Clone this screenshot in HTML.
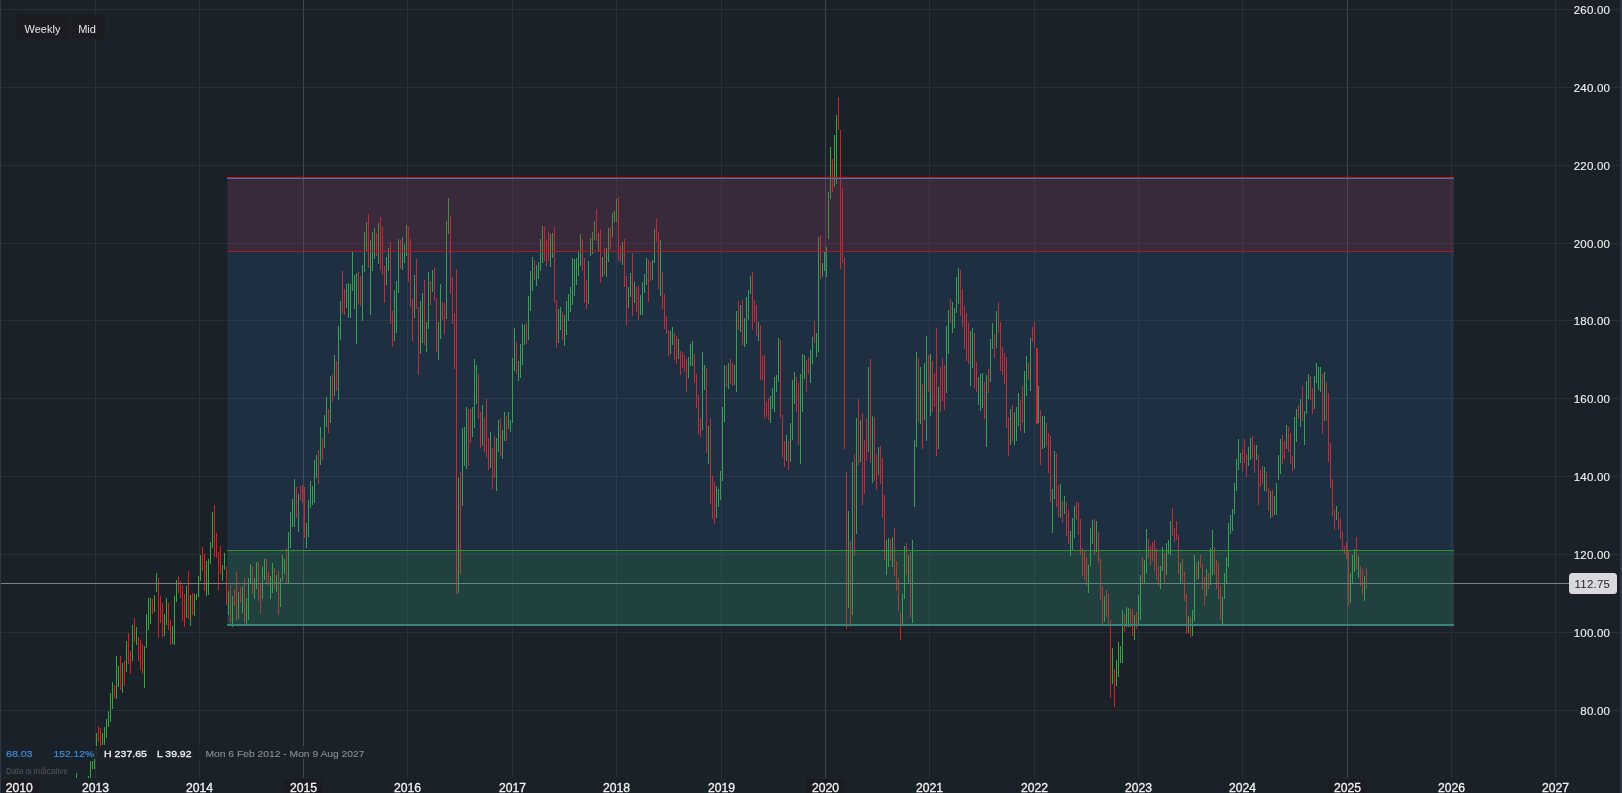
<!DOCTYPE html>
<html>
<head>
<meta charset="utf-8">
<title>Chart</title>
<style>
html,body{margin:0;padding:0;background:#1b2129;overflow:hidden;}
svg{display:block;font-family:"Liberation Sans",sans-serif;position:absolute;left:0;top:0;will-change:transform;}
.b{position:absolute;top:15px;height:24px;background:rgba(27,27,32,0.93);border-radius:2px;color:#e4e6ea;font:11px/29px "Liberation Sans",sans-serif;text-align:center;}
.g{fill:#39a63b}
.r{fill:#dd1e1e}
.gl{fill:#292e37}
.glb{fill:#444450}
.ax{font-size:11.5px;fill:#f2f2f2;stroke:#1b2129;stroke-width:3px;stroke-linejoin:round;paint-order:stroke fill;}
.tx{font-size:12px;fill:#f2f2f2;stroke:#1b2129;stroke-width:3px;stroke-linejoin:round;paint-order:stroke fill;text-anchor:middle;}
.btn{fill:#1b1c21}
.bt{font-size:11px;fill:#e4e6ea}
</style>
</head>
<body>
<svg width="1622" height="793" viewBox="0 0 1622 793" shape-rendering="crispEdges">
<defs>
<clipPath id="plotclip"><rect x="0" y="0" width="1620" height="778"/></clipPath>
</defs>
<rect x="0" y="0" width="1622" height="793" fill="#1b2129"/>
<rect x="0" y="0" width="1" height="793" fill="#2e3a4a"/>
<rect x="1620" y="0" width="2" height="793" fill="#2c3848"/>
<g id="hgrid">
<rect class="gl" x="1" y="9" width="1619" height="1"/>
<rect class="gl" x="1" y="87" width="1619" height="1"/>
<rect class="gl" x="1" y="165" width="1619" height="1"/>
<rect class="gl" x="1" y="243" width="1619" height="1"/>
<rect class="gl" x="1" y="320" width="1619" height="1"/>
<rect class="gl" x="1" y="398" width="1619" height="1"/>
<rect class="gl" x="1" y="476" width="1619" height="1"/>
<rect class="gl" x="1" y="554" width="1619" height="1"/>
<rect class="gl" x="1" y="632" width="1619" height="1"/>
<rect class="gl" x="1" y="710" width="1619" height="1"/>
</g>
<g id="vgrid">
<rect class="gl" x="95" y="0" width="1" height="778"/>
<rect class="gl" x="199" y="0" width="1" height="778"/>
<rect class="glb" x="303" y="0" width="1" height="778"/>
<rect class="gl" x="407" y="0" width="1" height="778"/>
<rect class="gl" x="512" y="0" width="1" height="778"/>
<rect class="gl" x="616" y="0" width="1" height="778"/>
<rect class="gl" x="721" y="0" width="1" height="778"/>
<rect class="glb" x="825" y="0" width="1" height="778"/>
<rect class="gl" x="929" y="0" width="1" height="778"/>
<rect class="gl" x="1034" y="0" width="1" height="778"/>
<rect class="gl" x="1138" y="0" width="1" height="778"/>
<rect class="gl" x="1242" y="0" width="1" height="778"/>
<rect class="glb" x="1347" y="0" width="1" height="778"/>
<rect class="gl" x="1451" y="0" width="1" height="778"/>
<rect class="gl" x="1555" y="0" width="1" height="778"/>
</g>

<g id="bars" clip-path="url(#plotclip)">
<rect class="g" x="76" y="773" width="1" height="6"/>
<rect class="g" x="88" y="776" width="1" height="3"/>
<rect class="g" x="90" y="761" width="1" height="18"/>
<rect class="g" x="92" y="761" width="1" height="8"/>
<rect class="g" x="94" y="751" width="1" height="18"/>
<rect class="g" x="96" y="733" width="1" height="23"/>
<rect class="r" x="98" y="726" width="1" height="16"/>
<rect class="r" x="100" y="728" width="1" height="21"/>
<rect class="g" x="102" y="733" width="1" height="12"/>
<rect class="g" x="104" y="727" width="1" height="18"/>
<rect class="g" x="106" y="719" width="1" height="19"/>
<rect class="g" x="108" y="711" width="1" height="16"/>
<rect class="g" x="110" y="693" width="1" height="29"/>
<rect class="g" x="112" y="682" width="1" height="27"/>
<rect class="r" x="114" y="685" width="1" height="13"/>
<rect class="g" x="116" y="656" width="1" height="43"/>
<rect class="g" x="118" y="666" width="1" height="21"/>
<rect class="r" x="120" y="656" width="1" height="34"/>
<rect class="g" x="122" y="663" width="1" height="30"/>
<rect class="r" x="124" y="661" width="1" height="25"/>
<rect class="g" x="126" y="641" width="1" height="31"/>
<rect class="r" x="128" y="633" width="1" height="31"/>
<rect class="r" x="130" y="651" width="1" height="23"/>
<rect class="g" x="132" y="625" width="1" height="36"/>
<rect class="r" x="134" y="618" width="1" height="24"/>
<rect class="g" x="136" y="627" width="1" height="18"/>
<rect class="r" x="138" y="637" width="1" height="24"/>
<rect class="r" x="140" y="640" width="1" height="30"/>
<rect class="r" x="142" y="644" width="1" height="30"/>
<rect class="g" x="144" y="646" width="1" height="42"/>
<rect class="g" x="146" y="614" width="1" height="34"/>
<rect class="g" x="148" y="598" width="1" height="32"/>
<rect class="g" x="150" y="598" width="1" height="26"/>
<rect class="r" x="152" y="599" width="1" height="15"/>
<rect class="g" x="154" y="595" width="1" height="17"/>
<rect class="g" x="156" y="573" width="1" height="19"/>
<rect class="r" x="158" y="578" width="1" height="60"/>
<rect class="r" x="160" y="596" width="1" height="27"/>
<rect class="r" x="162" y="603" width="1" height="34"/>
<rect class="g" x="164" y="614" width="1" height="22"/>
<rect class="g" x="166" y="598" width="1" height="27"/>
<rect class="r" x="168" y="603" width="1" height="27"/>
<rect class="r" x="170" y="620" width="1" height="25"/>
<rect class="g" x="172" y="626" width="1" height="18"/>
<rect class="g" x="174" y="596" width="1" height="49"/>
<rect class="g" x="176" y="580" width="1" height="22"/>
<rect class="r" x="178" y="576" width="1" height="17"/>
<rect class="r" x="180" y="581" width="1" height="17"/>
<rect class="r" x="182" y="585" width="1" height="36"/>
<rect class="r" x="184" y="594" width="1" height="33"/>
<rect class="g" x="186" y="586" width="1" height="32"/>
<rect class="r" x="188" y="571" width="1" height="48"/>
<rect class="g" x="190" y="595" width="1" height="31"/>
<rect class="r" x="192" y="593" width="1" height="22"/>
<rect class="g" x="194" y="594" width="1" height="22"/>
<rect class="g" x="196" y="594" width="1" height="6"/>
<rect class="g" x="198" y="576" width="1" height="21"/>
<rect class="g" x="200" y="555" width="1" height="26"/>
<rect class="r" x="202" y="547" width="1" height="24"/>
<rect class="r" x="204" y="554" width="1" height="37"/>
<rect class="g" x="206" y="561" width="1" height="35"/>
<rect class="g" x="208" y="559" width="1" height="36"/>
<rect class="g" x="210" y="542" width="1" height="22"/>
<rect class="g" x="212" y="512" width="1" height="36"/>
<rect class="r" x="214" y="505" width="1" height="52"/>
<rect class="r" x="216" y="533" width="1" height="25"/>
<rect class="r" x="218" y="552" width="1" height="38"/>
<rect class="r" x="220" y="546" width="1" height="28"/>
<rect class="g" x="222" y="565" width="1" height="16"/>
<rect class="g" x="224" y="553" width="1" height="17"/>
<rect class="r" x="226" y="566" width="1" height="39"/>
<rect class="g" x="228" y="591" width="1" height="24"/>
<rect class="r" x="230" y="585" width="1" height="38"/>
<rect class="g" x="232" y="596" width="1" height="31"/>
<rect class="r" x="234" y="590" width="1" height="16"/>
<rect class="r" x="236" y="572" width="1" height="49"/>
<rect class="g" x="238" y="592" width="1" height="27"/>
<rect class="r" x="240" y="587" width="1" height="16"/>
<rect class="g" x="242" y="586" width="1" height="27"/>
<rect class="r" x="244" y="578" width="1" height="45"/>
<rect class="g" x="246" y="598" width="1" height="27"/>
<rect class="g" x="248" y="578" width="1" height="42"/>
<rect class="g" x="250" y="564" width="1" height="20"/>
<rect class="r" x="252" y="566" width="1" height="28"/>
<rect class="g" x="254" y="578" width="1" height="21"/>
<rect class="g" x="256" y="562" width="1" height="27"/>
<rect class="r" x="258" y="562" width="1" height="39"/>
<rect class="r" x="260" y="583" width="1" height="30"/>
<rect class="g" x="262" y="567" width="1" height="32"/>
<rect class="g" x="264" y="559" width="1" height="21"/>
<rect class="r" x="266" y="558" width="1" height="25"/>
<rect class="r" x="268" y="572" width="1" height="13"/>
<rect class="g" x="270" y="576" width="1" height="23"/>
<rect class="g" x="272" y="563" width="1" height="30"/>
<rect class="r" x="274" y="568" width="1" height="21"/>
<rect class="g" x="276" y="575" width="1" height="17"/>
<rect class="r" x="278" y="571" width="1" height="44"/>
<rect class="g" x="280" y="578" width="1" height="29"/>
<rect class="g" x="282" y="555" width="1" height="26"/>
<rect class="g" x="284" y="559" width="1" height="15"/>
<rect class="r" x="286" y="548" width="1" height="35"/>
<rect class="g" x="288" y="532" width="1" height="51"/>
<rect class="g" x="290" y="512" width="1" height="36"/>
<rect class="g" x="292" y="499" width="1" height="28"/>
<rect class="g" x="294" y="479" width="1" height="48"/>
<rect class="r" x="296" y="487" width="1" height="31"/>
<rect class="g" x="298" y="494" width="1" height="38"/>
<rect class="r" x="300" y="486" width="1" height="14"/>
<rect class="r" x="302" y="485" width="1" height="18"/>
<rect class="r" x="304" y="487" width="1" height="51"/>
<rect class="g" x="306" y="523" width="1" height="25"/>
<rect class="g" x="308" y="500" width="1" height="37"/>
<rect class="g" x="310" y="481" width="1" height="27"/>
<rect class="g" x="312" y="486" width="1" height="19"/>
<rect class="g" x="314" y="460" width="1" height="43"/>
<rect class="g" x="316" y="455" width="1" height="23"/>
<rect class="r" x="318" y="450" width="1" height="34"/>
<rect class="g" x="320" y="427" width="1" height="38"/>
<rect class="r" x="322" y="438" width="1" height="22"/>
<rect class="g" x="324" y="415" width="1" height="33"/>
<rect class="g" x="326" y="397" width="1" height="30"/>
<rect class="r" x="328" y="409" width="1" height="24"/>
<rect class="g" x="330" y="376" width="1" height="47"/>
<rect class="r" x="332" y="374" width="1" height="28"/>
<rect class="g" x="334" y="355" width="1" height="41"/>
<rect class="r" x="336" y="361" width="1" height="30"/>
<rect class="g" x="338" y="326" width="1" height="74"/>
<rect class="g" x="340" y="301" width="1" height="39"/>
<rect class="r" x="342" y="271" width="1" height="43"/>
<rect class="r" x="344" y="289" width="1" height="26"/>
<rect class="g" x="346" y="284" width="1" height="24"/>
<rect class="g" x="348" y="283" width="1" height="35"/>
<rect class="g" x="350" y="284" width="1" height="34"/>
<rect class="g" x="352" y="252" width="1" height="39"/>
<rect class="g" x="354" y="275" width="1" height="34"/>
<rect class="g" x="356" y="273" width="1" height="71"/>
<rect class="r" x="358" y="272" width="1" height="32"/>
<rect class="r" x="360" y="276" width="1" height="30"/>
<rect class="g" x="362" y="265" width="1" height="56"/>
<rect class="g" x="364" y="232" width="1" height="40"/>
<rect class="g" x="366" y="222" width="1" height="30"/>
<rect class="r" x="368" y="214" width="1" height="54"/>
<rect class="g" x="370" y="240" width="1" height="75"/>
<rect class="g" x="372" y="232" width="1" height="39"/>
<rect class="g" x="374" y="228" width="1" height="31"/>
<rect class="r" x="376" y="233" width="1" height="23"/>
<rect class="g" x="378" y="223" width="1" height="41"/>
<rect class="r" x="380" y="217" width="1" height="53"/>
<rect class="r" x="382" y="227" width="1" height="48"/>
<rect class="r" x="384" y="266" width="1" height="37"/>
<rect class="g" x="386" y="257" width="1" height="28"/>
<rect class="g" x="388" y="248" width="1" height="23"/>
<rect class="r" x="390" y="242" width="1" height="82"/>
<rect class="r" x="392" y="311" width="1" height="36"/>
<rect class="g" x="394" y="290" width="1" height="51"/>
<rect class="g" x="396" y="281" width="1" height="52"/>
<rect class="g" x="398" y="239" width="1" height="54"/>
<rect class="r" x="400" y="240" width="1" height="29"/>
<rect class="g" x="402" y="237" width="1" height="33"/>
<rect class="g" x="404" y="244" width="1" height="19"/>
<rect class="g" x="406" y="225" width="1" height="31"/>
<rect class="r" x="408" y="227" width="1" height="55"/>
<rect class="r" x="410" y="239" width="1" height="68"/>
<rect class="r" x="412" y="299" width="1" height="42"/>
<rect class="g" x="414" y="275" width="1" height="43"/>
<rect class="r" x="416" y="259" width="1" height="50"/>
<rect class="r" x="418" y="307" width="1" height="68"/>
<rect class="g" x="420" y="301" width="1" height="53"/>
<rect class="g" x="422" y="293" width="1" height="50"/>
<rect class="r" x="424" y="280" width="1" height="65"/>
<rect class="g" x="426" y="322" width="1" height="30"/>
<rect class="g" x="428" y="272" width="1" height="57"/>
<rect class="r" x="430" y="281" width="1" height="24"/>
<rect class="g" x="432" y="270" width="1" height="22"/>
<rect class="r" x="434" y="267" width="1" height="34"/>
<rect class="r" x="436" y="298" width="1" height="54"/>
<rect class="g" x="438" y="322" width="1" height="38"/>
<rect class="g" x="440" y="284" width="1" height="55"/>
<rect class="r" x="442" y="302" width="1" height="18"/>
<rect class="r" x="444" y="303" width="1" height="31"/>
<rect class="g" x="446" y="221" width="1" height="98"/>
<rect class="g" x="448" y="198" width="1" height="36"/>
<rect class="r" x="450" y="216" width="1" height="78"/>
<rect class="r" x="452" y="277" width="1" height="47"/>
<rect class="r" x="454" y="313" width="1" height="56"/>
<rect class="r" x="456" y="269" width="1" height="325"/>
<rect class="g" x="458" y="478" width="1" height="115"/>
<rect class="r" x="460" y="472" width="1" height="102"/>
<rect class="g" x="462" y="428" width="1" height="78"/>
<rect class="g" x="464" y="427" width="1" height="39"/>
<rect class="g" x="466" y="407" width="1" height="62"/>
<rect class="r" x="468" y="409" width="1" height="57"/>
<rect class="r" x="470" y="409" width="1" height="34"/>
<rect class="g" x="472" y="407" width="1" height="30"/>
<rect class="g" x="474" y="359" width="1" height="69"/>
<rect class="g" x="476" y="365" width="1" height="39"/>
<rect class="r" x="478" y="374" width="1" height="45"/>
<rect class="r" x="480" y="412" width="1" height="36"/>
<rect class="g" x="482" y="405" width="1" height="41"/>
<rect class="r" x="484" y="418" width="1" height="34"/>
<rect class="r" x="486" y="399" width="1" height="59"/>
<rect class="r" x="488" y="438" width="1" height="32"/>
<rect class="g" x="490" y="432" width="1" height="36"/>
<rect class="r" x="492" y="448" width="1" height="41"/>
<rect class="r" x="494" y="436" width="1" height="42"/>
<rect class="g" x="496" y="438" width="1" height="53"/>
<rect class="g" x="498" y="420" width="1" height="32"/>
<rect class="r" x="500" y="419" width="1" height="37"/>
<rect class="g" x="502" y="430" width="1" height="29"/>
<rect class="g" x="504" y="412" width="1" height="29"/>
<rect class="r" x="506" y="416" width="1" height="25"/>
<rect class="g" x="508" y="412" width="1" height="17"/>
<rect class="g" x="510" y="420" width="1" height="12"/>
<rect class="g" x="512" y="358" width="1" height="65"/>
<rect class="g" x="514" y="328" width="1" height="43"/>
<rect class="r" x="516" y="342" width="1" height="32"/>
<rect class="g" x="518" y="361" width="1" height="20"/>
<rect class="g" x="520" y="344" width="1" height="34"/>
<rect class="g" x="522" y="324" width="1" height="41"/>
<rect class="g" x="524" y="325" width="1" height="20"/>
<rect class="r" x="526" y="323" width="1" height="21"/>
<rect class="g" x="528" y="296" width="1" height="44"/>
<rect class="g" x="530" y="271" width="1" height="40"/>
<rect class="g" x="532" y="257" width="1" height="34"/>
<rect class="r" x="534" y="260" width="1" height="20"/>
<rect class="g" x="536" y="265" width="1" height="21"/>
<rect class="g" x="538" y="262" width="1" height="17"/>
<rect class="g" x="540" y="239" width="1" height="32"/>
<rect class="g" x="542" y="226" width="1" height="37"/>
<rect class="r" x="544" y="227" width="1" height="34"/>
<rect class="r" x="546" y="240" width="1" height="26"/>
<rect class="r" x="548" y="232" width="1" height="29"/>
<rect class="g" x="550" y="234" width="1" height="33"/>
<rect class="g" x="552" y="233" width="1" height="25"/>
<rect class="r" x="554" y="227" width="1" height="76"/>
<rect class="r" x="556" y="300" width="1" height="48"/>
<rect class="g" x="558" y="309" width="1" height="34"/>
<rect class="g" x="560" y="307" width="1" height="23"/>
<rect class="r" x="562" y="312" width="1" height="28"/>
<rect class="g" x="564" y="315" width="1" height="31"/>
<rect class="g" x="566" y="301" width="1" height="34"/>
<rect class="g" x="568" y="294" width="1" height="27"/>
<rect class="g" x="570" y="287" width="1" height="25"/>
<rect class="g" x="572" y="258" width="1" height="47"/>
<rect class="g" x="574" y="259" width="1" height="37"/>
<rect class="g" x="576" y="258" width="1" height="27"/>
<rect class="g" x="578" y="250" width="1" height="26"/>
<rect class="g" x="580" y="234" width="1" height="32"/>
<rect class="r" x="582" y="239" width="1" height="32"/>
<rect class="r" x="584" y="258" width="1" height="45"/>
<rect class="r" x="586" y="280" width="1" height="29"/>
<rect class="g" x="588" y="261" width="1" height="43"/>
<rect class="g" x="590" y="238" width="1" height="18"/>
<rect class="g" x="592" y="232" width="1" height="22"/>
<rect class="g" x="594" y="221" width="1" height="19"/>
<rect class="r" x="596" y="209" width="1" height="32"/>
<rect class="g" x="598" y="233" width="1" height="19"/>
<rect class="r" x="600" y="229" width="1" height="54"/>
<rect class="g" x="602" y="257" width="1" height="20"/>
<rect class="r" x="604" y="248" width="1" height="27"/>
<rect class="g" x="606" y="248" width="1" height="29"/>
<rect class="g" x="608" y="228" width="1" height="34"/>
<rect class="r" x="610" y="227" width="1" height="22"/>
<rect class="g" x="612" y="213" width="1" height="24"/>
<rect class="g" x="614" y="211" width="1" height="11"/>
<rect class="g" x="616" y="199" width="1" height="23"/>
<rect class="r" x="618" y="197" width="1" height="64"/>
<rect class="r" x="620" y="246" width="1" height="16"/>
<rect class="g" x="622" y="242" width="1" height="23"/>
<rect class="r" x="624" y="239" width="1" height="48"/>
<rect class="r" x="626" y="276" width="1" height="49"/>
<rect class="g" x="628" y="287" width="1" height="21"/>
<rect class="g" x="630" y="273" width="1" height="24"/>
<rect class="r" x="632" y="253" width="1" height="63"/>
<rect class="g" x="634" y="282" width="1" height="21"/>
<rect class="r" x="636" y="287" width="1" height="25"/>
<rect class="r" x="638" y="286" width="1" height="34"/>
<rect class="g" x="640" y="295" width="1" height="20"/>
<rect class="g" x="642" y="282" width="1" height="33"/>
<rect class="g" x="644" y="274" width="1" height="19"/>
<rect class="g" x="646" y="258" width="1" height="27"/>
<rect class="r" x="648" y="260" width="1" height="42"/>
<rect class="r" x="650" y="262" width="1" height="19"/>
<rect class="g" x="652" y="260" width="1" height="20"/>
<rect class="g" x="654" y="229" width="1" height="34"/>
<rect class="r" x="656" y="219" width="1" height="23"/>
<rect class="r" x="658" y="232" width="1" height="57"/>
<rect class="g" x="660" y="240" width="1" height="56"/>
<rect class="r" x="662" y="272" width="1" height="37"/>
<rect class="r" x="664" y="294" width="1" height="35"/>
<rect class="r" x="666" y="316" width="1" height="18"/>
<rect class="r" x="668" y="330" width="1" height="26"/>
<rect class="g" x="670" y="331" width="1" height="23"/>
<rect class="g" x="672" y="327" width="1" height="18"/>
<rect class="r" x="674" y="333" width="1" height="27"/>
<rect class="r" x="676" y="336" width="1" height="28"/>
<rect class="g" x="678" y="339" width="1" height="20"/>
<rect class="r" x="680" y="351" width="1" height="24"/>
<rect class="r" x="682" y="352" width="1" height="16"/>
<rect class="r" x="684" y="355" width="1" height="17"/>
<rect class="r" x="686" y="359" width="1" height="33"/>
<rect class="g" x="688" y="357" width="1" height="21"/>
<rect class="g" x="690" y="344" width="1" height="22"/>
<rect class="g" x="692" y="341" width="1" height="25"/>
<rect class="r" x="694" y="354" width="1" height="29"/>
<rect class="r" x="696" y="374" width="1" height="34"/>
<rect class="r" x="698" y="395" width="1" height="39"/>
<rect class="r" x="700" y="418" width="1" height="19"/>
<rect class="g" x="702" y="352" width="1" height="78"/>
<rect class="g" x="704" y="365" width="1" height="25"/>
<rect class="r" x="706" y="368" width="1" height="85"/>
<rect class="g" x="708" y="426" width="1" height="38"/>
<rect class="r" x="710" y="418" width="1" height="86"/>
<rect class="r" x="712" y="476" width="1" height="43"/>
<rect class="r" x="714" y="482" width="1" height="42"/>
<rect class="g" x="716" y="486" width="1" height="32"/>
<rect class="g" x="718" y="489" width="1" height="18"/>
<rect class="g" x="720" y="471" width="1" height="29"/>
<rect class="g" x="722" y="407" width="1" height="74"/>
<rect class="g" x="724" y="365" width="1" height="57"/>
<rect class="r" x="726" y="366" width="1" height="21"/>
<rect class="g" x="728" y="363" width="1" height="26"/>
<rect class="r" x="730" y="359" width="1" height="25"/>
<rect class="r" x="732" y="363" width="1" height="23"/>
<rect class="g" x="734" y="365" width="1" height="20"/>
<rect class="g" x="736" y="311" width="1" height="81"/>
<rect class="r" x="738" y="301" width="1" height="29"/>
<rect class="g" x="740" y="305" width="1" height="27"/>
<rect class="r" x="742" y="300" width="1" height="45"/>
<rect class="g" x="744" y="318" width="1" height="29"/>
<rect class="g" x="746" y="297" width="1" height="47"/>
<rect class="g" x="748" y="290" width="1" height="30"/>
<rect class="g" x="750" y="276" width="1" height="18"/>
<rect class="r" x="752" y="272" width="1" height="58"/>
<rect class="r" x="754" y="300" width="1" height="22"/>
<rect class="r" x="756" y="305" width="1" height="31"/>
<rect class="g" x="758" y="322" width="1" height="19"/>
<rect class="r" x="760" y="325" width="1" height="55"/>
<rect class="r" x="762" y="356" width="1" height="24"/>
<rect class="r" x="764" y="355" width="1" height="64"/>
<rect class="r" x="766" y="402" width="1" height="15"/>
<rect class="r" x="768" y="398" width="1" height="22"/>
<rect class="g" x="770" y="396" width="1" height="27"/>
<rect class="g" x="772" y="388" width="1" height="21"/>
<rect class="g" x="774" y="377" width="1" height="35"/>
<rect class="g" x="776" y="375" width="1" height="17"/>
<rect class="g" x="778" y="338" width="1" height="44"/>
<rect class="r" x="780" y="340" width="1" height="78"/>
<rect class="r" x="782" y="415" width="1" height="43"/>
<rect class="r" x="784" y="441" width="1" height="26"/>
<rect class="g" x="786" y="435" width="1" height="26"/>
<rect class="r" x="788" y="441" width="1" height="29"/>
<rect class="g" x="790" y="423" width="1" height="39"/>
<rect class="g" x="792" y="380" width="1" height="60"/>
<rect class="g" x="794" y="372" width="1" height="32"/>
<rect class="r" x="796" y="377" width="1" height="35"/>
<rect class="r" x="798" y="383" width="1" height="62"/>
<rect class="g" x="800" y="374" width="1" height="90"/>
<rect class="g" x="802" y="354" width="1" height="58"/>
<rect class="g" x="804" y="355" width="1" height="24"/>
<rect class="r" x="806" y="360" width="1" height="32"/>
<rect class="r" x="808" y="357" width="1" height="17"/>
<rect class="g" x="810" y="350" width="1" height="33"/>
<rect class="g" x="812" y="337" width="1" height="27"/>
<rect class="r" x="814" y="321" width="1" height="22"/>
<rect class="g" x="816" y="333" width="1" height="24"/>
<rect class="g" x="818" y="237" width="1" height="115"/>
<rect class="r" x="820" y="235" width="1" height="44"/>
<rect class="g" x="822" y="263" width="1" height="14"/>
<rect class="g" x="824" y="252" width="1" height="19"/>
<rect class="g" x="826" y="247" width="1" height="30"/>
<rect class="g" x="828" y="192" width="1" height="47"/>
<rect class="g" x="830" y="147" width="1" height="52"/>
<rect class="r" x="832" y="159" width="1" height="33"/>
<rect class="g" x="834" y="135" width="1" height="52"/>
<rect class="g" x="836" y="115" width="1" height="69"/>
<rect class="r" x="838" y="97" width="1" height="33"/>
<rect class="r" x="840" y="130" width="1" height="139"/>
<rect class="r" x="842" y="188" width="1" height="75"/>
<rect class="r" x="844" y="258" width="1" height="191"/>
<rect class="r" x="846" y="472" width="1" height="157"/>
<rect class="g" x="848" y="511" width="1" height="97"/>
<rect class="r" x="850" y="541" width="1" height="86"/>
<rect class="g" x="852" y="462" width="1" height="153"/>
<rect class="r" x="854" y="454" width="1" height="102"/>
<rect class="g" x="856" y="418" width="1" height="116"/>
<rect class="r" x="858" y="399" width="1" height="66"/>
<rect class="g" x="860" y="420" width="1" height="42"/>
<rect class="r" x="862" y="413" width="1" height="92"/>
<rect class="r" x="864" y="440" width="1" height="54"/>
<rect class="r" x="866" y="418" width="1" height="43"/>
<rect class="g" x="868" y="367" width="1" height="85"/>
<rect class="r" x="870" y="359" width="1" height="104"/>
<rect class="g" x="872" y="416" width="1" height="67"/>
<rect class="r" x="874" y="417" width="1" height="64"/>
<rect class="r" x="876" y="454" width="1" height="36"/>
<rect class="g" x="878" y="447" width="1" height="28"/>
<rect class="r" x="880" y="446" width="1" height="38"/>
<rect class="r" x="882" y="458" width="1" height="60"/>
<rect class="r" x="884" y="495" width="1" height="65"/>
<rect class="g" x="886" y="540" width="1" height="35"/>
<rect class="g" x="888" y="538" width="1" height="29"/>
<rect class="r" x="890" y="539" width="1" height="22"/>
<rect class="g" x="892" y="537" width="1" height="30"/>
<rect class="r" x="894" y="528" width="1" height="48"/>
<rect class="r" x="896" y="561" width="1" height="30"/>
<rect class="r" x="898" y="578" width="1" height="33"/>
<rect class="r" x="900" y="612" width="1" height="28"/>
<rect class="g" x="902" y="594" width="1" height="30"/>
<rect class="g" x="904" y="546" width="1" height="53"/>
<rect class="r" x="906" y="543" width="1" height="32"/>
<rect class="g" x="908" y="555" width="1" height="28"/>
<rect class="r" x="910" y="552" width="1" height="65"/>
<rect class="g" x="912" y="540" width="1" height="83"/>
<rect class="g" x="914" y="440" width="1" height="67"/>
<rect class="g" x="916" y="352" width="1" height="95"/>
<rect class="r" x="918" y="358" width="1" height="64"/>
<rect class="g" x="920" y="367" width="1" height="57"/>
<rect class="r" x="922" y="384" width="1" height="65"/>
<rect class="g" x="924" y="363" width="1" height="57"/>
<rect class="g" x="926" y="336" width="1" height="105"/>
<rect class="r" x="928" y="355" width="1" height="37"/>
<rect class="g" x="930" y="354" width="1" height="62"/>
<rect class="r" x="932" y="361" width="1" height="51"/>
<rect class="r" x="934" y="373" width="1" height="34"/>
<rect class="r" x="936" y="328" width="1" height="128"/>
<rect class="g" x="938" y="387" width="1" height="62"/>
<rect class="r" x="940" y="367" width="1" height="45"/>
<rect class="r" x="942" y="358" width="1" height="43"/>
<rect class="r" x="944" y="365" width="1" height="45"/>
<rect class="g" x="946" y="326" width="1" height="67"/>
<rect class="g" x="948" y="310" width="1" height="44"/>
<rect class="r" x="950" y="299" width="1" height="24"/>
<rect class="g" x="952" y="302" width="1" height="31"/>
<rect class="g" x="954" y="308" width="1" height="20"/>
<rect class="g" x="956" y="277" width="1" height="36"/>
<rect class="g" x="958" y="268" width="1" height="36"/>
<rect class="r" x="960" y="270" width="1" height="46"/>
<rect class="r" x="962" y="289" width="1" height="38"/>
<rect class="r" x="964" y="306" width="1" height="43"/>
<rect class="r" x="966" y="313" width="1" height="48"/>
<rect class="r" x="968" y="323" width="1" height="41"/>
<rect class="g" x="970" y="331" width="1" height="55"/>
<rect class="g" x="972" y="328" width="1" height="40"/>
<rect class="r" x="974" y="333" width="1" height="55"/>
<rect class="r" x="976" y="362" width="1" height="30"/>
<rect class="g" x="978" y="377" width="1" height="28"/>
<rect class="g" x="980" y="374" width="1" height="37"/>
<rect class="g" x="982" y="373" width="1" height="35"/>
<rect class="r" x="984" y="382" width="1" height="37"/>
<rect class="g" x="986" y="375" width="1" height="72"/>
<rect class="r" x="988" y="369" width="1" height="24"/>
<rect class="g" x="990" y="339" width="1" height="43"/>
<rect class="g" x="992" y="323" width="1" height="26"/>
<rect class="r" x="994" y="334" width="1" height="24"/>
<rect class="g" x="996" y="311" width="1" height="37"/>
<rect class="r" x="998" y="302" width="1" height="31"/>
<rect class="r" x="1000" y="322" width="1" height="49"/>
<rect class="r" x="1002" y="347" width="1" height="28"/>
<rect class="r" x="1004" y="353" width="1" height="31"/>
<rect class="r" x="1006" y="357" width="1" height="71"/>
<rect class="r" x="1008" y="417" width="1" height="39"/>
<rect class="g" x="1010" y="409" width="1" height="36"/>
<rect class="r" x="1012" y="405" width="1" height="36"/>
<rect class="g" x="1014" y="412" width="1" height="33"/>
<rect class="g" x="1016" y="407" width="1" height="34"/>
<rect class="g" x="1018" y="393" width="1" height="33"/>
<rect class="r" x="1020" y="400" width="1" height="31"/>
<rect class="r" x="1022" y="386" width="1" height="37"/>
<rect class="g" x="1024" y="371" width="1" height="62"/>
<rect class="g" x="1026" y="356" width="1" height="40"/>
<rect class="r" x="1028" y="363" width="1" height="17"/>
<rect class="g" x="1030" y="338" width="1" height="53"/>
<rect class="r" x="1032" y="327" width="1" height="15"/>
<rect class="r" x="1034" y="322" width="1" height="25"/>
<rect class="r" x="1036" y="348" width="2" height="76"/>
<rect class="g" x="1038" y="386" width="1" height="37"/>
<rect class="r" x="1040" y="410" width="1" height="55"/>
<rect class="g" x="1042" y="416" width="1" height="33"/>
<rect class="g" x="1044" y="416" width="1" height="32"/>
<rect class="r" x="1046" y="423" width="1" height="23"/>
<rect class="r" x="1048" y="433" width="1" height="40"/>
<rect class="r" x="1050" y="436" width="1" height="66"/>
<rect class="g" x="1052" y="489" width="1" height="44"/>
<rect class="g" x="1054" y="451" width="1" height="48"/>
<rect class="r" x="1056" y="453" width="1" height="54"/>
<rect class="r" x="1058" y="485" width="1" height="32"/>
<rect class="g" x="1060" y="484" width="1" height="34"/>
<rect class="r" x="1062" y="501" width="1" height="22"/>
<rect class="g" x="1064" y="496" width="1" height="18"/>
<rect class="r" x="1066" y="502" width="1" height="34"/>
<rect class="r" x="1068" y="510" width="1" height="34"/>
<rect class="g" x="1070" y="531" width="1" height="25"/>
<rect class="g" x="1072" y="518" width="1" height="32"/>
<rect class="g" x="1074" y="506" width="1" height="32"/>
<rect class="r" x="1076" y="502" width="1" height="18"/>
<rect class="r" x="1078" y="502" width="1" height="33"/>
<rect class="r" x="1080" y="519" width="1" height="36"/>
<rect class="r" x="1082" y="548" width="1" height="28"/>
<rect class="r" x="1084" y="551" width="1" height="29"/>
<rect class="r" x="1086" y="557" width="1" height="29"/>
<rect class="g" x="1088" y="565" width="1" height="28"/>
<rect class="g" x="1090" y="528" width="1" height="38"/>
<rect class="g" x="1092" y="520" width="1" height="24"/>
<rect class="r" x="1094" y="519" width="1" height="36"/>
<rect class="g" x="1096" y="521" width="1" height="31"/>
<rect class="r" x="1098" y="532" width="1" height="31"/>
<rect class="r" x="1100" y="558" width="1" height="42"/>
<rect class="r" x="1102" y="586" width="1" height="40"/>
<rect class="g" x="1104" y="596" width="1" height="26"/>
<rect class="r" x="1106" y="590" width="1" height="27"/>
<rect class="r" x="1108" y="594" width="1" height="30"/>
<rect class="r" x="1110" y="620" width="1" height="78"/>
<rect class="g" x="1112" y="648" width="1" height="36"/>
<rect class="r" x="1114" y="669" width="1" height="38"/>
<rect class="g" x="1116" y="660" width="1" height="26"/>
<rect class="g" x="1118" y="642" width="1" height="35"/>
<rect class="g" x="1120" y="646" width="1" height="17"/>
<rect class="g" x="1122" y="610" width="1" height="53"/>
<rect class="r" x="1124" y="614" width="1" height="18"/>
<rect class="g" x="1126" y="607" width="1" height="20"/>
<rect class="g" x="1128" y="608" width="1" height="19"/>
<rect class="r" x="1130" y="609" width="1" height="18"/>
<rect class="r" x="1132" y="609" width="1" height="27"/>
<rect class="g" x="1134" y="615" width="1" height="25"/>
<rect class="r" x="1136" y="612" width="1" height="17"/>
<rect class="g" x="1138" y="595" width="1" height="29"/>
<rect class="g" x="1140" y="575" width="1" height="45"/>
<rect class="r" x="1142" y="557" width="1" height="26"/>
<rect class="g" x="1144" y="560" width="1" height="23"/>
<rect class="g" x="1146" y="529" width="1" height="44"/>
<rect class="r" x="1148" y="539" width="1" height="19"/>
<rect class="r" x="1150" y="546" width="1" height="19"/>
<rect class="r" x="1152" y="542" width="1" height="19"/>
<rect class="r" x="1154" y="540" width="1" height="31"/>
<rect class="r" x="1156" y="548" width="1" height="32"/>
<rect class="r" x="1158" y="566" width="1" height="20"/>
<rect class="g" x="1160" y="566" width="1" height="23"/>
<rect class="g" x="1162" y="547" width="1" height="24"/>
<rect class="r" x="1164" y="553" width="1" height="30"/>
<rect class="g" x="1166" y="543" width="1" height="32"/>
<rect class="g" x="1168" y="540" width="1" height="14"/>
<rect class="g" x="1170" y="521" width="1" height="34"/>
<rect class="r" x="1172" y="508" width="1" height="28"/>
<rect class="r" x="1174" y="528" width="1" height="14"/>
<rect class="r" x="1176" y="521" width="1" height="19"/>
<rect class="r" x="1178" y="535" width="1" height="39"/>
<rect class="g" x="1180" y="563" width="1" height="20"/>
<rect class="r" x="1182" y="559" width="1" height="23"/>
<rect class="r" x="1184" y="572" width="1" height="29"/>
<rect class="r" x="1186" y="594" width="1" height="40"/>
<rect class="g" x="1188" y="616" width="1" height="17"/>
<rect class="r" x="1190" y="617" width="1" height="20"/>
<rect class="g" x="1192" y="610" width="1" height="26"/>
<rect class="g" x="1194" y="555" width="1" height="66"/>
<rect class="r" x="1196" y="563" width="1" height="17"/>
<rect class="g" x="1198" y="561" width="1" height="18"/>
<rect class="r" x="1200" y="555" width="1" height="13"/>
<rect class="r" x="1202" y="564" width="1" height="26"/>
<rect class="r" x="1204" y="577" width="1" height="28"/>
<rect class="g" x="1206" y="569" width="1" height="27"/>
<rect class="r" x="1208" y="573" width="1" height="16"/>
<rect class="g" x="1210" y="548" width="1" height="37"/>
<rect class="g" x="1212" y="530" width="1" height="45"/>
<rect class="r" x="1214" y="547" width="1" height="28"/>
<rect class="r" x="1216" y="560" width="1" height="29"/>
<rect class="r" x="1218" y="563" width="1" height="36"/>
<rect class="r" x="1220" y="586" width="1" height="34"/>
<rect class="g" x="1222" y="597" width="1" height="27"/>
<rect class="g" x="1224" y="573" width="1" height="26"/>
<rect class="g" x="1226" y="557" width="1" height="26"/>
<rect class="g" x="1228" y="523" width="1" height="44"/>
<rect class="g" x="1230" y="515" width="1" height="19"/>
<rect class="g" x="1232" y="509" width="1" height="22"/>
<rect class="g" x="1234" y="483" width="1" height="31"/>
<rect class="g" x="1236" y="459" width="1" height="32"/>
<rect class="g" x="1238" y="439" width="1" height="31"/>
<rect class="g" x="1240" y="453" width="1" height="10"/>
<rect class="r" x="1242" y="449" width="1" height="22"/>
<rect class="r" x="1244" y="439" width="1" height="24"/>
<rect class="r" x="1246" y="454" width="1" height="23"/>
<rect class="g" x="1248" y="447" width="1" height="19"/>
<rect class="g" x="1250" y="438" width="1" height="22"/>
<rect class="r" x="1252" y="436" width="1" height="23"/>
<rect class="r" x="1254" y="445" width="1" height="28"/>
<rect class="g" x="1256" y="445" width="1" height="15"/>
<rect class="r" x="1258" y="455" width="1" height="50"/>
<rect class="r" x="1260" y="470" width="1" height="17"/>
<rect class="r" x="1262" y="466" width="1" height="18"/>
<rect class="g" x="1264" y="467" width="1" height="24"/>
<rect class="r" x="1266" y="472" width="1" height="20"/>
<rect class="r" x="1268" y="488" width="1" height="23"/>
<rect class="g" x="1270" y="491" width="1" height="27"/>
<rect class="r" x="1272" y="490" width="1" height="27"/>
<rect class="g" x="1274" y="496" width="1" height="19"/>
<rect class="g" x="1276" y="483" width="1" height="32"/>
<rect class="g" x="1278" y="455" width="1" height="25"/>
<rect class="g" x="1280" y="439" width="1" height="35"/>
<rect class="r" x="1282" y="435" width="1" height="29"/>
<rect class="r" x="1284" y="441" width="1" height="18"/>
<rect class="g" x="1286" y="425" width="1" height="24"/>
<rect class="r" x="1288" y="427" width="1" height="25"/>
<rect class="r" x="1290" y="433" width="1" height="31"/>
<rect class="r" x="1292" y="456" width="1" height="15"/>
<rect class="g" x="1294" y="417" width="1" height="52"/>
<rect class="g" x="1296" y="409" width="1" height="33"/>
<rect class="r" x="1298" y="405" width="1" height="14"/>
<rect class="g" x="1300" y="399" width="1" height="28"/>
<rect class="r" x="1302" y="386" width="1" height="35"/>
<rect class="g" x="1304" y="411" width="1" height="34"/>
<rect class="g" x="1306" y="381" width="1" height="33"/>
<rect class="g" x="1308" y="374" width="1" height="25"/>
<rect class="r" x="1310" y="376" width="1" height="24"/>
<rect class="r" x="1312" y="388" width="1" height="26"/>
<rect class="g" x="1314" y="376" width="1" height="33"/>
<rect class="g" x="1316" y="363" width="1" height="20"/>
<rect class="g" x="1318" y="367" width="1" height="23"/>
<rect class="g" x="1320" y="367" width="1" height="25"/>
<rect class="r" x="1322" y="374" width="1" height="60"/>
<rect class="g" x="1324" y="372" width="1" height="49"/>
<rect class="r" x="1326" y="382" width="1" height="39"/>
<rect class="r" x="1328" y="393" width="1" height="69"/>
<rect class="r" x="1330" y="443" width="1" height="45"/>
<rect class="r" x="1332" y="479" width="1" height="37"/>
<rect class="r" x="1334" y="510" width="1" height="20"/>
<rect class="g" x="1336" y="506" width="1" height="14"/>
<rect class="r" x="1338" y="512" width="1" height="18"/>
<rect class="r" x="1340" y="518" width="1" height="21"/>
<rect class="r" x="1342" y="532" width="1" height="18"/>
<rect class="r" x="1344" y="546" width="1" height="8"/>
<rect class="r" x="1346" y="542" width="1" height="17"/>
<rect class="r" x="1348" y="551" width="1" height="55"/>
<rect class="g" x="1350" y="573" width="1" height="30"/>
<rect class="g" x="1352" y="555" width="1" height="28"/>
<rect class="g" x="1354" y="549" width="1" height="23"/>
<rect class="r" x="1356" y="537" width="1" height="33"/>
<rect class="g" x="1358" y="556" width="1" height="22"/>
<rect class="r" x="1360" y="566" width="1" height="20"/>
<rect class="r" x="1362" y="569" width="1" height="26"/>
<rect class="g" x="1364" y="576" width="1" height="25"/>
<rect class="r" x="1366" y="568" width="1" height="21"/>
</g>
<rect x="1" y="583" width="1569" height="1" fill="#7b7d87"/>
<g id="zones" shape-rendering="geometricPrecision">
<rect x="227.5" y="178" width="1226.5" height="447" fill="rgba(52,122,192,0.165)"/>
<rect x="227.5" y="177" width="1226.5" height="75" fill="rgba(190,15,30,0.17)"/>
<rect x="227.5" y="550" width="1226.5" height="75" fill="rgba(40,175,50,0.14)"/>
<rect x="227" y="178" width="1227" height="1" fill="#4a6ea0"/>
<rect x="227" y="177" width="1227" height="1" fill="#c01e22"/>
<rect x="227" y="251" width="1227" height="1" fill="#aa1c20"/>
<rect x="227" y="550" width="1227" height="1" fill="#349138"/>
<rect x="227" y="624" width="1227" height="1" fill="#349138"/>
<rect x="227" y="625" width="1227" height="1" fill="#3878be"/>
</g>
<g id="yaxis">
<text x="1610.2" y="14" font-size="11.5" text-anchor="end" fill="#1b2129" stroke="#1b2129" stroke-width="3" stroke-linejoin="round" letter-spacing="0.22">260.00</text>
<text x="1610.2" y="14" font-size="11.5" text-anchor="end" fill="#f2f2f2" stroke="#f2f2f2" stroke-width="0.12" letter-spacing="0.22">260.00</text>
<text x="1610.2" y="92" font-size="11.5" text-anchor="end" fill="#1b2129" stroke="#1b2129" stroke-width="3" stroke-linejoin="round" letter-spacing="0.22">240.00</text>
<text x="1610.2" y="92" font-size="11.5" text-anchor="end" fill="#f2f2f2" stroke="#f2f2f2" stroke-width="0.12" letter-spacing="0.22">240.00</text>
<text x="1610.2" y="170" font-size="11.5" text-anchor="end" fill="#1b2129" stroke="#1b2129" stroke-width="3" stroke-linejoin="round" letter-spacing="0.22">220.00</text>
<text x="1610.2" y="170" font-size="11.5" text-anchor="end" fill="#f2f2f2" stroke="#f2f2f2" stroke-width="0.12" letter-spacing="0.22">220.00</text>
<text x="1610.2" y="248" font-size="11.5" text-anchor="end" fill="#1b2129" stroke="#1b2129" stroke-width="3" stroke-linejoin="round" letter-spacing="0.22">200.00</text>
<text x="1610.2" y="248" font-size="11.5" text-anchor="end" fill="#f2f2f2" stroke="#f2f2f2" stroke-width="0.12" letter-spacing="0.22">200.00</text>
<text x="1610.2" y="325" font-size="11.5" text-anchor="end" fill="#1b2129" stroke="#1b2129" stroke-width="3" stroke-linejoin="round" letter-spacing="0.22">180.00</text>
<text x="1610.2" y="325" font-size="11.5" text-anchor="end" fill="#f2f2f2" stroke="#f2f2f2" stroke-width="0.12" letter-spacing="0.22">180.00</text>
<text x="1610.2" y="403" font-size="11.5" text-anchor="end" fill="#1b2129" stroke="#1b2129" stroke-width="3" stroke-linejoin="round" letter-spacing="0.22">160.00</text>
<text x="1610.2" y="403" font-size="11.5" text-anchor="end" fill="#f2f2f2" stroke="#f2f2f2" stroke-width="0.12" letter-spacing="0.22">160.00</text>
<text x="1610.2" y="481" font-size="11.5" text-anchor="end" fill="#1b2129" stroke="#1b2129" stroke-width="3" stroke-linejoin="round" letter-spacing="0.22">140.00</text>
<text x="1610.2" y="481" font-size="11.5" text-anchor="end" fill="#f2f2f2" stroke="#f2f2f2" stroke-width="0.12" letter-spacing="0.22">140.00</text>
<text x="1610.2" y="559" font-size="11.5" text-anchor="end" fill="#1b2129" stroke="#1b2129" stroke-width="3" stroke-linejoin="round" letter-spacing="0.22">120.00</text>
<text x="1610.2" y="559" font-size="11.5" text-anchor="end" fill="#f2f2f2" stroke="#f2f2f2" stroke-width="0.12" letter-spacing="0.22">120.00</text>
<text x="1610.2" y="637" font-size="11.5" text-anchor="end" fill="#1b2129" stroke="#1b2129" stroke-width="3" stroke-linejoin="round" letter-spacing="0.22">100.00</text>
<text x="1610.2" y="637" font-size="11.5" text-anchor="end" fill="#f2f2f2" stroke="#f2f2f2" stroke-width="0.12" letter-spacing="0.22">100.00</text>
<text x="1610.2" y="715" font-size="11.5" text-anchor="end" fill="#1b2129" stroke="#1b2129" stroke-width="3" stroke-linejoin="round" letter-spacing="0.22">80.00</text>
<text x="1610.2" y="715" font-size="11.5" text-anchor="end" fill="#f2f2f2" stroke="#f2f2f2" stroke-width="0.12" letter-spacing="0.22">80.00</text>
</g>
<rect x="1569" y="573" width="48" height="21" rx="3.5" ry="3.5" fill="#d9d9de" shape-rendering="auto"/>
<text x="1610.2" y="588" font-size="11.5" letter-spacing="0.22" text-anchor="end" fill="#1b2129">112.75</text>
<g id="xaxis">
<rect x="1" y="779" width="38" height="14" fill="#1b1c21"/>
<rect x="284" y="779" width="39" height="14" fill="#1b1c21"/>
<rect x="806" y="779" width="39" height="14" fill="#1b1c21"/>
<rect x="1328" y="779" width="39" height="14" fill="#1b1c21"/>
<text x="19.3" y="792.3" font-size="12.2" text-anchor="middle" fill="#f2f2f2" stroke="#f2f2f2" stroke-width="0.3">2010</text>
<text x="95.5" y="792.3" font-size="12.2" text-anchor="middle" fill="#1b2129" stroke="#1b2129" stroke-width="3" stroke-linejoin="round">2013</text>
<text x="95.5" y="792.3" font-size="12.2" text-anchor="middle" fill="#f2f2f2" stroke="#f2f2f2" stroke-width="0.3">2013</text>
<text x="199.5" y="792.3" font-size="12.2" text-anchor="middle" fill="#1b2129" stroke="#1b2129" stroke-width="3" stroke-linejoin="round">2014</text>
<text x="199.5" y="792.3" font-size="12.2" text-anchor="middle" fill="#f2f2f2" stroke="#f2f2f2" stroke-width="0.3">2014</text>
<text x="303.5" y="792.3" font-size="12.2" text-anchor="middle" fill="#f2f2f2" stroke="#f2f2f2" stroke-width="0.3">2015</text>
<text x="407.5" y="792.3" font-size="12.2" text-anchor="middle" fill="#1b2129" stroke="#1b2129" stroke-width="3" stroke-linejoin="round">2016</text>
<text x="407.5" y="792.3" font-size="12.2" text-anchor="middle" fill="#f2f2f2" stroke="#f2f2f2" stroke-width="0.3">2016</text>
<text x="512.5" y="792.3" font-size="12.2" text-anchor="middle" fill="#1b2129" stroke="#1b2129" stroke-width="3" stroke-linejoin="round">2017</text>
<text x="512.5" y="792.3" font-size="12.2" text-anchor="middle" fill="#f2f2f2" stroke="#f2f2f2" stroke-width="0.3">2017</text>
<text x="616.5" y="792.3" font-size="12.2" text-anchor="middle" fill="#1b2129" stroke="#1b2129" stroke-width="3" stroke-linejoin="round">2018</text>
<text x="616.5" y="792.3" font-size="12.2" text-anchor="middle" fill="#f2f2f2" stroke="#f2f2f2" stroke-width="0.3">2018</text>
<text x="721.5" y="792.3" font-size="12.2" text-anchor="middle" fill="#1b2129" stroke="#1b2129" stroke-width="3" stroke-linejoin="round">2019</text>
<text x="721.5" y="792.3" font-size="12.2" text-anchor="middle" fill="#f2f2f2" stroke="#f2f2f2" stroke-width="0.3">2019</text>
<text x="825.5" y="792.3" font-size="12.2" text-anchor="middle" fill="#f2f2f2" stroke="#f2f2f2" stroke-width="0.3">2020</text>
<text x="929.5" y="792.3" font-size="12.2" text-anchor="middle" fill="#1b2129" stroke="#1b2129" stroke-width="3" stroke-linejoin="round">2021</text>
<text x="929.5" y="792.3" font-size="12.2" text-anchor="middle" fill="#f2f2f2" stroke="#f2f2f2" stroke-width="0.3">2021</text>
<text x="1034.5" y="792.3" font-size="12.2" text-anchor="middle" fill="#1b2129" stroke="#1b2129" stroke-width="3" stroke-linejoin="round">2022</text>
<text x="1034.5" y="792.3" font-size="12.2" text-anchor="middle" fill="#f2f2f2" stroke="#f2f2f2" stroke-width="0.3">2022</text>
<text x="1138.5" y="792.3" font-size="12.2" text-anchor="middle" fill="#1b2129" stroke="#1b2129" stroke-width="3" stroke-linejoin="round">2023</text>
<text x="1138.5" y="792.3" font-size="12.2" text-anchor="middle" fill="#f2f2f2" stroke="#f2f2f2" stroke-width="0.3">2023</text>
<text x="1242.5" y="792.3" font-size="12.2" text-anchor="middle" fill="#1b2129" stroke="#1b2129" stroke-width="3" stroke-linejoin="round">2024</text>
<text x="1242.5" y="792.3" font-size="12.2" text-anchor="middle" fill="#f2f2f2" stroke="#f2f2f2" stroke-width="0.3">2024</text>
<text x="1347.5" y="792.3" font-size="12.2" text-anchor="middle" fill="#f2f2f2" stroke="#f2f2f2" stroke-width="0.3">2025</text>
<text x="1451.5" y="792.3" font-size="12.2" text-anchor="middle" fill="#1b2129" stroke="#1b2129" stroke-width="3" stroke-linejoin="round">2026</text>
<text x="1451.5" y="792.3" font-size="12.2" text-anchor="middle" fill="#f2f2f2" stroke="#f2f2f2" stroke-width="0.3">2026</text>
<text x="1555.5" y="792.3" font-size="12.2" text-anchor="middle" fill="#1b2129" stroke="#1b2129" stroke-width="3" stroke-linejoin="round">2027</text>
<text x="1555.5" y="792.3" font-size="12.2" text-anchor="middle" fill="#f2f2f2" stroke="#f2f2f2" stroke-width="0.3">2027</text>
</g>
<g id="info">
<rect x="1" y="746" width="372" height="13" fill="#1b2129" fill-opacity="0.85"/>
<text x="6" y="756.8" font-size="9.6" fill="#3d8fdd" stroke="#3d8fdd" stroke-width="0.18" textLength="26.5" lengthAdjust="spacingAndGlyphs">68.03</text>
<text x="53.5" y="756.8" font-size="9.6" fill="#3d8fdd" stroke="#3d8fdd" stroke-width="0.18" textLength="40.5" lengthAdjust="spacingAndGlyphs">152.12%</text>
<text x="104" y="756.8" font-size="9.6" fill="#f2f2f2" stroke="#f2f2f2" stroke-width="0.28" textLength="43" lengthAdjust="spacingAndGlyphs">H 237.65</text>
<text x="157" y="756.8" font-size="9.6" fill="#f2f2f2" stroke="#f2f2f2" stroke-width="0.28" textLength="34.5" lengthAdjust="spacingAndGlyphs">L 39.92</text>
<text x="205.5" y="756.8" font-size="9.6" fill="#8a8f98" stroke="#8a8f98" stroke-width="0.1" textLength="159" lengthAdjust="spacingAndGlyphs">Mon 6 Feb 2012 - Mon 9 Aug 2027</text>
<text x="6" y="774" font-size="9" fill="#56555e" textLength="62" lengthAdjust="spacingAndGlyphs">Data is indicative</text>
</g>
</svg>
<div class="b" style="left:16px;width:53px">Weekly</div>
<div class="b" style="left:71px;width:32px;padding-right:2px">Mid</div>
</body>
</html>
